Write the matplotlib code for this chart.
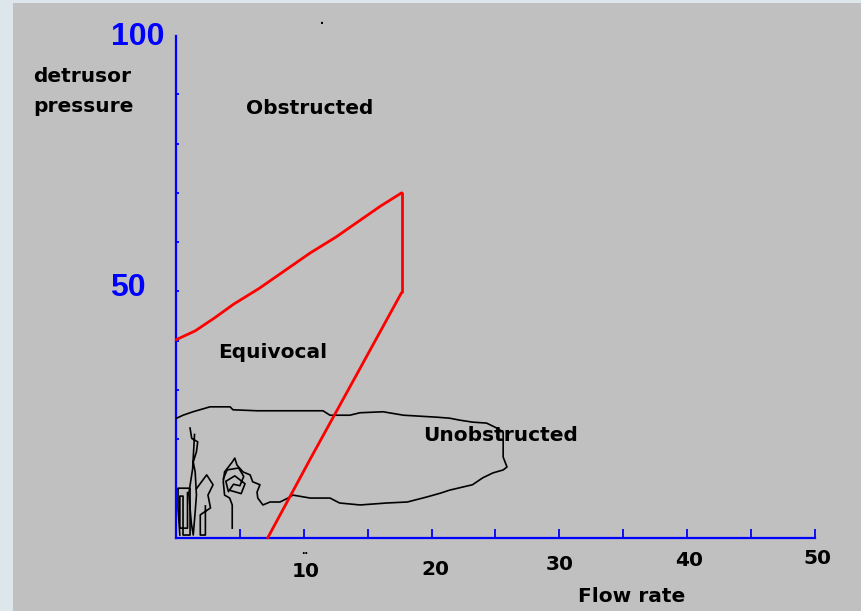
import matplotlib.pyplot as plt
import matplotlib.patches as patches

# nomogram boundaries (flow rate, detrusor pressure)
upper_q = [0.0, 1.5, 3.0, 4.5, 6.5, 8.5, 10.5, 12.5, 14.5, 16.0, 17.66]
upper_p = [40.2, 42.0, 44.6, 47.4, 50.6, 54.2, 57.8, 61.0, 64.6, 67.3, 70.0]
edge_q = [17.66, 17.66]
edge_p = [70.0, 49.8]
lower_q = [17.66, 14.0, 10.5, 7.17]
lower_p = [49.8, 32.5, 16.0, 0.0]

# pressure-flow trace of the voiding
loop_q = [0.05, 0.55, 1.33, 2.66, 4.23, 4.46, 6.34, 11.5, 12.05, 13.6, 14.4, 16.2,
          17.8, 20.4, 21.4, 22.2, 23.2, 24.3, 25.1, 25.6, 25.6, 25.9, 25.6, 24.8,
          24.0, 23.2, 21.4, 20.7, 19.6, 18.1, 16.5, 14.4, 12.8, 12.05, 10.5, 9.15,
          8.76, 8.14, 7.36, 6.8, 6.4, 6.34, 6.57, 6.0, 5.8, 5.24, 4.77, 4.6, 4.4,
          3.8, 3.7, 3.8, 4.2, 4.4, 4.4]
loop_p = [24.3, 24.9, 25.6, 26.6, 26.6, 26.0, 25.8, 25.8, 24.9, 24.9, 25.4, 25.6,
          24.9, 24.5, 24.3, 23.9, 23.5, 23.3, 22.3, 21.5, 16.4, 14.4, 13.8, 13.2,
          12.2, 10.8, 9.7, 9.1, 8.3, 7.3, 7.1, 6.7, 7.1, 8.1, 8.1, 8.7,
          8.1, 7.3, 7.3, 6.7, 8.1, 9.3, 10.8, 11.4, 12.8, 13.4, 14.8, 16.2, 15.4,
          13.4, 11.4, 8.7, 8.1, 6.7, 2.0]
spike_q = [1.1, 1.23, 1.7, 1.6, 1.35, 1.5, 1.6, 1.5, 1.35, 1.2, 1.0, 1.3, 1.45]
spike_p = [22.3, 20.2, 19.5, 17.5, 15.4, 13.4, 8.7, 5.3, 0.6, 3.0, 9.0, 14.0, 21.0]
box_q = [0.3, 0.16, 0.16, 1.1, 1.1, 0.55, 0.55, 0.3, 0.3, 0.9, 0.9]
box_p = [0.6, 6.0, 10.1, 10.1, 0.6, 0.6, 8.5, 8.5, 2.0, 2.0, 9.2]
side_q = [1.6, 2.4, 2.9, 2.5, 2.7, 1.9, 1.9, 2.3, 2.3]
side_p = [10.0, 12.8, 10.8, 8.7, 6.1, 4.7, 0.6, 0.6, 6.5]
bloom_q = [3.7, 4.0, 4.9, 5.3, 5.0, 4.5, 4.1, 3.9, 4.6, 5.4, 5.1, 4.3]
bloom_p = [12.0, 13.8, 14.2, 12.5, 10.6, 10.9, 9.4, 11.5, 12.6, 11.0, 9.0, 9.6]

x_ticks = [5, 10, 15, 20, 25, 30, 35, 40, 45, 50]
x_labels = ['10', '20', '30', '40', '50']
y_ticks = [10, 20, 30, 40, 50, 60, 70, 80, 90]

blue = '#0000ff'
gray = '#c0c0c0'
font = ['Liberation Sans', 'DejaVu Sans']
label_font = ['DejaVu Sans']

fig = plt.figure(figsize=(8.62, 6.11), dpi=100, facecolor='#dce6eb')
fig.patches.append(patches.Rectangle((13 / 862, 0), 1 - 13 / 862, 608 / 611,
                                     transform=fig.transFigure, facecolor=gray,
                                     edgecolor='none', zorder=-5))

ax = fig.add_axes([176 / 862, 73 / 611, 639 / 862, 502 / 611])
ax.patch.set_alpha(0)
ax.set_xlim(0, 50)
ax.set_ylim(0, 101.8)
for s in ['top', 'right']:
    ax.spines[s].set_visible(False)
for s in ['left', 'bottom']:
    ax.spines[s].set_color(blue)
    ax.spines[s].set_linewidth(1.6)
ax.set_xticks(x_ticks)
ax.set_xticklabels([])
ax.set_yticks(y_ticks)
ax.set_yticklabels([])
ax.tick_params(axis='x', direction='in', length=6.5, width=1.3, color=blue)
ax.tick_params(axis='y', direction='in', length=2.5, width=1.3, color=blue)
ax.xaxis.get_major_ticks()[0].tick1line.set_color('#808080')

# trace
for q, p in [(loop_q, loop_p), (spike_q, spike_p), (box_q, box_p),
             (side_q, side_p), (bloom_q, bloom_p)]:
    ax.plot(q, p, color='black', lw=1.2, zorder=3, clip_on=False)

# red nomogram lines
for q, p in [(upper_q, upper_p), (edge_q, edge_p), (lower_q, lower_p)]:
    ax.plot(q, p, color='#ff0000', lw=2.0, zorder=4, clip_on=False,
            solid_capstyle='round')

# tick labels, slightly staggered as in the original
label_offsets = [(1.5, -24), (3, -22.5), (0, -19), (1.5, -16), (2, -14.5)]
for lab, (dx, dy) in zip(x_labels, label_offsets):
    ax.annotate(lab, xy=(float(lab), 0), xycoords=('data', 'axes fraction'),
                xytext=(dx, dy), textcoords='offset points', ha='center',
                va='center', fontsize=14.5, fontweight='bold', family=label_font)
ax.annotate('..', xy=(10, 0), xycoords=('data', 'axes fraction'),
            xytext=(0.5, -9), textcoords='offset points', ha='center',
            va='center', fontsize=9, fontweight='bold', family=font)

fig.text(138 / 862, 1 - 37 / 611, '100', color=blue, fontsize=23,
         fontweight='bold', family=font, ha='center', va='center')
fig.text(128 / 862, 1 - 288 / 611, '50', color=blue, fontsize=23,
         fontweight='bold', family=font, ha='center', va='center')
fig.text(33 / 862, 1 - 76 / 611, 'detrusor', fontsize=14.5, fontweight='bold',
         family=label_font, ha='left', va='center')
fig.text(33 / 862, 1 - 107 / 611, 'pressure', fontsize=14.5, fontweight='bold',
         family=label_font, ha='left', va='center')
fig.text(322 / 862, 1 - 24 / 611, '·', fontsize=10, fontweight='bold',
         family=font, ha='center', va='center')

ax.text(5.5, 87.0, 'Obstructed', fontsize=14.5, fontweight='bold',
        family=label_font, ha='left', va='center')
ax.text(3.3, 37.6, 'Equivocal', fontsize=14.5, fontweight='bold',
        family=label_font, ha='left', va='center', zorder=5)
ax.text(19.3, 20.8, 'Unobstructed', fontsize=14.5, fontweight='bold',
        family=label_font, ha='left', va='center', zorder=2)
fig.text(632 / 862, 1 - 597 / 611, 'Flow rate', fontsize=14.5, fontweight='bold',
         family=label_font, ha='center', va='center')

fig.savefig('out.png', dpi=100, facecolor=fig.get_facecolor())
